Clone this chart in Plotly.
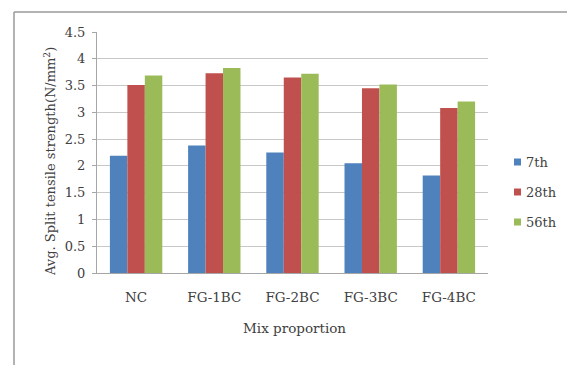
import plotly.graph_objects as go

categories = ["NC", "FG-1BC", "FG-2BC", "FG-3BC", "FG-4BC"]
series_names = ["7th", "28th", "56th"]
day7 = [2.19, 2.38, 2.25, 2.05, 1.82]
day28 = [3.51, 3.73, 3.65, 3.45, 3.08]
day56 = [3.69, 3.83, 3.72, 3.52, 3.20]
colors = ["#4F81BD", "#C0504D", "#9BBB59"]

W, H = 567, 365
L, R, T, B = 97, 79, 32, 92
SERIF = "DejaVu Serif"
TXT = "#404040"

fig = go.Figure()
for name, vals, col in zip(series_names, [day7, day28, day56], colors):
    fig.add_trace(go.Bar(x=categories, y=vals, name=name, marker_color=col,
                         marker_line_width=0, showlegend=False))

fig.update_layout(
    width=W, height=H,
    margin=dict(l=L, r=R, t=T, b=B),
    paper_bgcolor="white", plot_bgcolor="white",
    font=dict(family=SERIF, size=13, color=TXT),
    barmode="group", bargap=0.33, bargroupgap=0,
    xaxis=dict(showgrid=False, showline=True, linecolor="#a6a6a6", linewidth=1,
               ticks="", ticklabelstandoff=12,
               tickfont=dict(family=SERIF, size=13.5, color=TXT), fixedrange=True),
    yaxis=dict(range=[0, 4.5],
               tickvals=[0, 0.5, 1, 1.5, 2, 2.5, 3, 3.5, 4, 4.5],
               ticktext=["0", "0.5", "1", "1.5", "2", "2.5", "3", "3.5", "4", "4.5"],
               showgrid=True, gridcolor="#c8c8c8", gridwidth=1,
               showline=True, linecolor="#a6a6a6", linewidth=1,
               ticks="outside", ticklen=4, tickcolor="#a6a6a6", ticklabelstandoff=4,
               tickfont=dict(family=SERIF, size=13, color=TXT), zeroline=False),
)

pw = W - L - R
ph = H - T - B


def px_x(x):
    return (x - L) / pw


def px_y(y):
    return (H - B - y) / ph


# axis titles
fig.add_annotation(text="Avg. Split tensile strength(N/mm<sup>2</sup>)", textangle=-90,
                   xref="paper", yref="paper", x=px_x(40), y=px_y(162),
                   showarrow=False, font=dict(family=SERIF, size=13, color=TXT))
fig.add_annotation(text="Mix proportion", xref="paper", yref="paper",
                   x=px_x(294), y=px_y(338),
                   showarrow=False, font=dict(family=SERIF, size=13.5, color=TXT))

# legend: small colour keys with series labels
for i, (name, col) in enumerate(zip(series_names, colors)):
    cy = 162 + i * 30
    fig.add_shape(type="rect", xref="paper", yref="paper",
                  x0=px_x(514), x1=px_x(521), y0=px_y(cy - 3.5), y1=px_y(cy + 3.5),
                  fillcolor=col, line=dict(width=0))
    fig.add_annotation(text=name, xref="paper", yref="paper", x=px_x(524), y=px_y(cy),
                       xanchor="left", yanchor="middle", showarrow=False,
                       font=dict(family=SERIF, size=13, color=TXT))

# chart frame (top and left edges)
fx0 = px_x(14)
fy_top = px_y(12)
fig.add_shape(type="line", xref="paper", yref="paper", x0=fx0, x1=px_x(W + 5),
              y0=fy_top, y1=fy_top, line=dict(color="#9a9a9a", width=1.5))
fig.add_shape(type="line", xref="paper", yref="paper", x0=fx0, x1=fx0,
              y0=fy_top, y1=px_y(H + 5), line=dict(color="#9a9a9a", width=1.5))

fig.write_html("out.html")
